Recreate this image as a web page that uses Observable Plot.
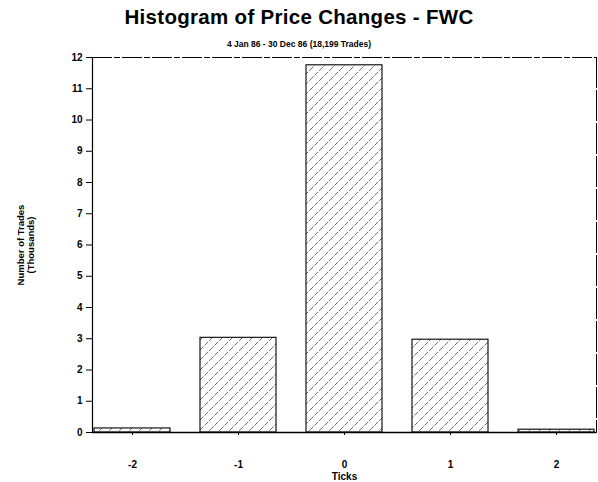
<!DOCTYPE html>
<html>
<head>
<meta charset="utf-8">
<script src="https://cdn.jsdelivr.net/npm/d3@7"></script>
<script src="https://cdn.jsdelivr.net/npm/@observablehq/plot@0.6"></script>
<style>
  body { margin: 0; background: #fff; font-family: "Liberation Sans", Arial, sans-serif; }
  #wrap { width: 598px; }
  .title { height: 50px; text-align: center; position: relative; }
  .title h1 { margin: 0; position: absolute; top: 5px; left: 0; right: 0; font-size: 20.5px; font-weight: bold; letter-spacing: 0.3px; }
  .title h2 { margin: 0; position: absolute; top: 39px; left: 0; right: 0; font-size: 8.5px; font-weight: bold; }
  svg { display: block; }
</style>
</head>
<body>
<div id="wrap">
  <div class="title">
    <h1>Histogram of Price Changes - FWC</h1>
    <h2>4 Jan 86 - 30 Dec 86 (18,199 Trades)</h2>
  </div>
  <div id="chart"></div>
</div>
<script>
const ticks = [-2, -1, 0, 1, 2];
const trades = [0.13, 3.03, 11.75, 2.97, 0.09];
const yTicks = [0, 1, 2, 3, 4, 5, 6, 7, 8, 9, 10, 11, 12];

const data = ticks.map((t, i) => ({tick: t, value: trades[i]}));

const chart = Plot.plot({
  width: 598,
  height: 432,
  marginTop: 7,
  marginBottom: 50,
  marginLeft: 92,
  marginRight: 2,
  style: {fontFamily: "Liberation Sans, Arial, sans-serif", fontWeight: "bold", background: "#fff", color: "#000"},
  x: {domain: ticks, paddingInner: 0.28, paddingOuter: 0},
  y: {domain: [0, 12]},
  marks: [
    Plot.barY(data, {x: "tick", y: "value", fill: "url(#hatch)", stroke: "#000", strokeWidth: 1.1}),
    Plot.ruleY([0], {stroke: "#000", strokeWidth: 1.3, dx: 0}),
    Plot.ruleY([12], {stroke: "#000", strokeWidth: 1, strokeDasharray: "20,2,6,2"}),
    Plot.frame({anchor: "left", stroke: "#000", strokeWidth: 1.2}),
    Plot.frame({anchor: "right", stroke: "#000", strokeWidth: 1, strokeDasharray: "30,3"}),
    Plot.axisY({ticks: yTicks, tickSize: 6, tickPadding: 4, fontSize: 10, label: null}),
    Plot.axisX({tickSize: 3, tickPadding: 25, fontSize: 10, label: "Ticks", labelAnchor: "center", labelArrow: "none", labelOffset: 47}),
    Plot.text(["Number of Trades\n(Thousands)"], {frameAnchor: "left", dx: -67, rotate: -90, textAnchor: "middle", lineAnchor: "middle", fontSize: 9.5, lineHeight: 1.15, fontWeight: "bold"})
  ]
});

// hatch pattern definition
const ns = "http://www.w3.org/2000/svg";
const defs = document.createElementNS(ns, "defs");
const pat = document.createElementNS(ns, "pattern");
pat.setAttribute("id", "hatch");
pat.setAttribute("patternUnits", "userSpaceOnUse");
pat.setAttribute("width", "10");
pat.setAttribute("height", "10");
const bg = document.createElementNS(ns, "rect");
bg.setAttribute("width", "10"); bg.setAttribute("height", "10"); bg.setAttribute("fill", "#fff");
pat.appendChild(bg);
[["0", "10", "10", "0"], ["-1", "1", "1", "-1"], ["9", "11", "11", "9"]].forEach(([x1, y1, x2, y2]) => {
  const l = document.createElementNS(ns, "line");
  l.setAttribute("x1", x1); l.setAttribute("y1", y1);
  l.setAttribute("x2", x2); l.setAttribute("y2", y2);
  l.setAttribute("stroke", "#444");
  l.setAttribute("stroke-width", "0.8");
  l.setAttribute("stroke-dasharray", "5,1.5");
  pat.appendChild(l);
});
defs.appendChild(pat);
chart.insertBefore(defs, chart.firstChild);

document.getElementById("chart").appendChild(chart);
</script>
</body>
</html>
